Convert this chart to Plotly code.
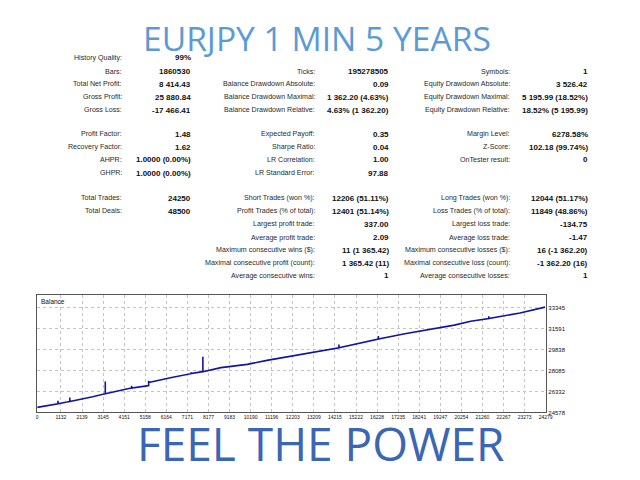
import plotly.graph_objects as go

# ---------- dados do gráfico de saldo ----------
trade_no = [0, 989, 989, 989, 1554, 1554, 1554, 2651, 3249, 3249, 3249, 4379, 4506, 4506, 4506,
            5240, 5320, 5320, 5320, 6417, 7345, 7345, 7345, 7830, 7910, 7910, 7910, 8771, 10028,
            10970, 12853, 14407, 14407, 14407, 16290, 16290, 16290, 17556, 19129, 19915, 20702,
            21563, 21563, 21563, 23055, 24250]
balance = [25000, 25300, 25555, 25300, 25500, 25830, 25500, 25889, 26150, 27166, 26150, 26582,
           26620, 26807, 26620, 26807, 26830, 27225, 27083, 27500, 27830, 27950, 27830, 27977,
           27990, 29254, 27990, 28336, 28611, 28945, 29530, 30006, 30281, 30006, 30740, 30982,
           30740, 31175, 31676, 31901, 32235, 32452, 32652, 32452, 32928, 33414]

x_ticks = [0, 1132, 2139, 3145, 4151, 5158, 6164, 7171, 8177, 9183, 10190, 11196, 12203, 13209,
           14215, 15222, 16228, 17235, 18241, 19247, 20254, 21260, 22267, 23273, 24279]
y_ticks = [24578, 26332, 28085, 29838, 31591, 33345]

# ---------- tabela de resultados ----------
row_y = [58.3, 72, 85, 97.7, 111, 135, 148.3, 161, 174.3, 199.3, 212.7, 225.7, 239, 251.7, 265, 277.7]

col1_labels = ["History Quality:", "Bars:", "Total Net Profit:", "Gross Profit:", "Gross Loss:",
               "Profit Factor:", "Recovery Factor:", "AHPR:", "GHPR:", "Total Trades:", "Total Deals:",
               "", "", "", "", ""]
col1_values = ["99%", "1860530", "8 414.43", "25 880.84", "-17 466.41",
               "1.48", "1.62", "1.0000 (0.00%)", "1.0000 (0.00%)", "24250", "48500",
               "", "", "", "", ""]
col2_labels = ["", "Ticks:", "Balance Drawdown Absolute:", "Balance Drawdown Maximal:",
               "Balance Drawdown Relative:", "Expected Payoff:", "Sharpe Ratio:", "LR Correlation:",
               "LR Standard Error:", "Short Trades (won %):", "Profit Trades (% of total):",
               "Largest profit trade:", "Average profit trade:", "Maximum consecutive wins ($):",
               "Maximal consecutive profit (count):", "Average consecutive wins:"]
col2_values = ["", "195278505", "0.09", "1 362.20 (4.63%)", "4.63% (1 362.20)", "0.35", "0.04",
               "1.00", "97.88", "12206 (51.11%)", "12401 (51.14%)", "337.00", "2.09",
               "11 (1 365.42)", "1 365.42 (11)", "1"]
col3_labels = ["", "Symbols:", "Equity Drawdown Absolute:", "Equity Drawdown Maximal:",
               "Equity Drawdown Relative:", "Margin Level:", "Z-Score:", "OnTester result:", "",
               "Long Trades (won %):", "Loss Trades (% of total):", "Largest loss trade:",
               "Average loss trade:", "Maximum consecutive losses ($):",
               "Maximal consecutive loss (count):", "Average consecutive losses:"]
col3_values = ["", "1", "3 526.42", "5 195.99 (18.52%)", "18.52% (5 195.99)", "6278.58%",
               "102.18 (99.74%)", "0", "", "12044 (51.17%)", "11849 (48.86%)", "-134.75", "-1.47",
               "16 (-1 362.20)", "-1 362.20 (16)", "1"]

W, H = 640, 480
FONTE = "Liberation Sans"


def px(x):
    return x / W


def py(y):
    return 1 - y / H


fig = go.Figure()
fig.add_trace(go.Scatter(x=trade_no, y=balance, mode="lines",
                         line=dict(color="#1414a4", width=1.6), showlegend=False))

anots = []
# colunas da tabela: (rótulos, valores, x do rótulo, x do valor)
colunas = [(col1_labels, col1_values, 124, 193.5),
           (col2_labels, col2_values, 318.5, 394),
           (col3_labels, col3_values, 516, 595.5)]
for rotulos, valores, xl, xv in colunas:
    for i, y in enumerate(row_y):
        if rotulos[i]:
            anots.append(dict(x=px(xl), y=py(y), text=rotulos[i], xanchor="right", yanchor="middle",
                              font=dict(family=FONTE, size=7.1, color="#2a2a2a")))
        if valores[i]:
            anots.append(dict(x=px(xv), y=py(y), text="<b>" + valores[i] + "</b>", xanchor="right",
                              yanchor="middle", font=dict(family=FONTE, size=8, color="#111")))

# títulos
anots.append(dict(x=px(320.5), y=py(38), text="EURJPY 1 MIN 5 YEARS", xanchor="center", yanchor="middle",
                  font=dict(family="Open Sans", size=33.6, color="#5b9bd5")))
anots.append(dict(x=px(324), y=py(446), text="FEEL THE POWER", xanchor="center", yanchor="middle",
                  font=dict(family="Open Sans", size=46, color="#3a66b4")))
anots.append(dict(x=px(39), y=py(303), text="Balance", xanchor="left", yanchor="middle",
                  font=dict(family=FONTE, size=6.5, color="#111")))

for a in anots:
    a.update(xref="paper", yref="paper", showarrow=False, borderpad=0)

fig.update_layout(
    width=W, height=H,
    margin=dict(l=0, r=0, t=0, b=0),
    paper_bgcolor="white", plot_bgcolor="white",
    annotations=anots,
    xaxis=dict(domain=[px(36.7), px(552)], range=[0, 24300],
               tickvals=x_ticks, ticktext=[str(v) for v in x_ticks],
               showgrid=True, gridcolor="#c4c4c4", griddash="dot", gridwidth=1,
               showline=True, linecolor="#555", linewidth=1, mirror=True,
               zeroline=False, ticks="", tickfont=dict(family=FONTE, size=5, color="#111")),
    yaxis=dict(domain=[py(415), py(297.3)], range=[24578, 34395], side="right",
               tickvals=y_ticks, ticktext=[str(v) for v in y_ticks],
               showgrid=True, gridcolor="#c4c4c4", griddash="dot", gridwidth=1,
               showline=True, linecolor="#555", linewidth=1, mirror=True,
               zeroline=False, ticks="", tickfont=dict(family=FONTE, size=6, color="#111")),
)

# a página tem margem de 8px no body; tira para a figura ficar no canto
fig.write_html("out.html", config={"displayModeBar": False},
               post_script="document.body.style.margin='0';")
